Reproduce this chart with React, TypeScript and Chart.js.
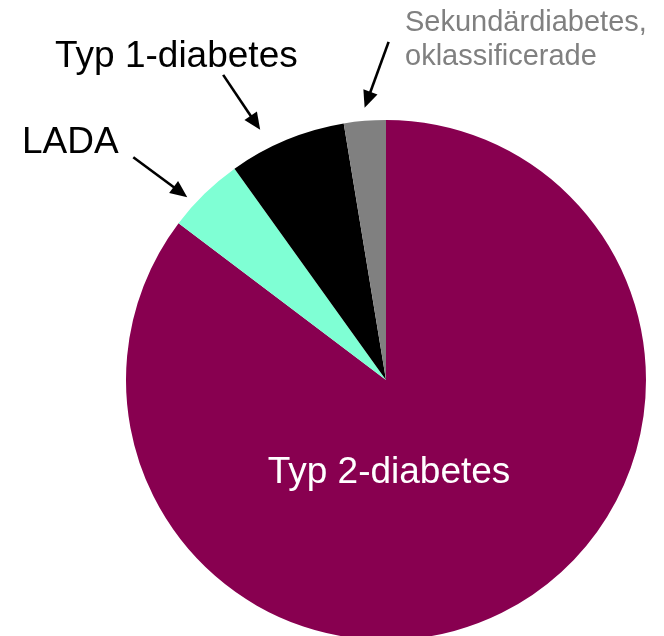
import React, { useEffect, useRef } from 'react';
import { Chart, registerables } from 'chart.js';

Chart.register(...registerables);

const categories = ['Typ 2-diabetes', 'LADA', 'Typ 1-diabetes', 'Sekundärdiabetes, oklassificerade'];
const shares = [85.3, 4.8, 7.3, 2.6];
const sliceColors = ['#880050', '#7FFFD4', '#000000', '#808080'];

const FONT = '"Liberation Sans", Arial, sans-serif';

// Annotation layout: arrow tip placed on a slice (fraction t across the slice, gap outside the rim)
const annotations = [
  { index: 2, t: 0.34, gap: 20, tail: [-37, -55], lines: ['Typ 1-diabetes'], textX: 55, textY: 67, size: 37, color: '#000000', lineGap: 0 },
  { index: 1, t: 0.32, gap: 10, tail: [-54, -40], lines: ['LADA'], textX: 22, textY: 153, size: 37, color: '#000000', lineGap: 0 },
  { index: 3, t: 0.52, gap: 13, tail: [24, -66], lines: ['Sekundärdiabetes,', 'oklassificerade'], textX: 405, textY: 31, size: 29, color: '#808080', lineGap: 33.5 },
];

const labelPlugin = {
  id: 'labelPlugin',
  afterDraw(chart: any) {
    const ctx = chart.ctx;
    const meta = chart.getDatasetMeta(0);
    ctx.save();
    // inner label for the big slice
    const big = meta.data[0];
    ctx.fillStyle = '#ffffff';
    ctx.font = `37px ${FONT}`;
    ctx.textAlign = 'center';
    ctx.textBaseline = 'alphabetic';
    ctx.fillText(categories[0], big.x + 3, big.y + 103);

    ctx.textAlign = 'left';
    for (const a of annotations) {
      const arc = meta.data[a.index];
      const ang = arc.startAngle + (arc.endAngle - arc.startAngle) * a.t;
      const r = arc.outerRadius + a.gap;
      const tipX = arc.x + r * Math.cos(ang);
      const tipY = arc.y + r * Math.sin(ang);
      const tailX = tipX + a.tail[0];
      const tailY = tipY + a.tail[1];
      const dx = tipX - tailX;
      const dy = tipY - tailY;
      const len = Math.hypot(dx, dy);
      const ux = dx / len;
      const uy = dy / len;
      const headLen = 17;
      const headW = 7.5;
      const bx = tipX - ux * headLen;
      const by = tipY - uy * headLen;
      ctx.strokeStyle = '#000000';
      ctx.lineWidth = 2.6;
      ctx.beginPath();
      ctx.moveTo(tailX, tailY);
      ctx.lineTo(bx + ux * 2, by + uy * 2);
      ctx.stroke();
      ctx.fillStyle = '#000000';
      ctx.beginPath();
      ctx.moveTo(tipX, tipY);
      ctx.lineTo(bx - uy * headW, by + ux * headW);
      ctx.lineTo(bx + uy * headW, by - ux * headW);
      ctx.closePath();
      ctx.fill();

      ctx.fillStyle = a.color;
      ctx.font = `${a.size}px ${FONT}`;
      a.lines.forEach((line, i) => {
        ctx.fillText(line, a.textX, a.textY + i * a.lineGap);
      });
    }
    ctx.restore();
  },
};

export default function App() {
  const ref = useRef<HTMLCanvasElement | null>(null);
  useEffect(() => {
    if (!ref.current) return;
    const chart = new Chart(ref.current, {
      type: 'pie',
      data: {
        labels: categories,
        datasets: [
          {
            data: shares,
            backgroundColor: sliceColors,
            borderWidth: 0,
          },
        ],
      },
      options: {
        responsive: false,
        animation: false,
        devicePixelRatio: 1,
        layout: { padding: { left: 126, right: 18, top: 120, bottom: 20 } },
        plugins: {
          legend: { display: false },
          tooltip: { enabled: false },
        },
      },
      plugins: [labelPlugin],
    });
    return () => chart.destroy();
  }, []);
  return (
    <div style={{ position: 'absolute', left: 0, top: 0, width: 664, height: 636, overflow: 'hidden', background: '#fff' }}>
      <canvas ref={ref} width={664} height={660} style={{ display: 'block' }} />
    </div>
  );
}
